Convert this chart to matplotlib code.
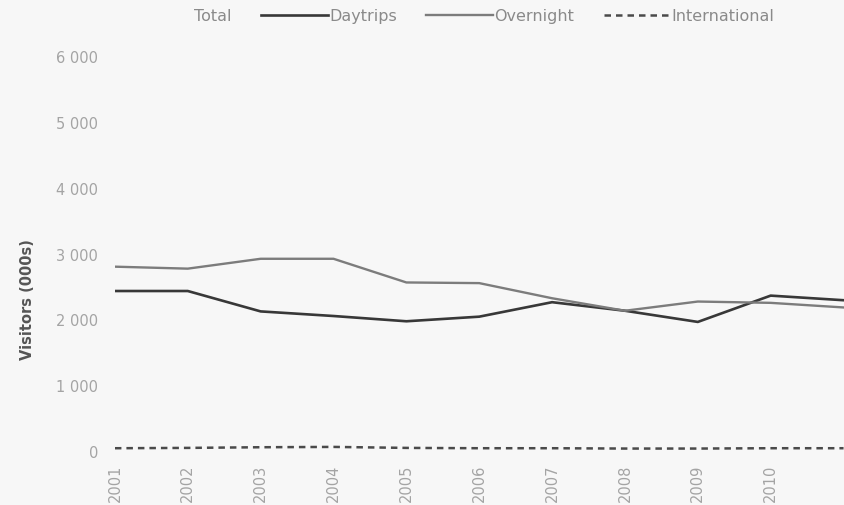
import matplotlib

matplotlib.use("Agg")
import matplotlib.pyplot as plt
from matplotlib.ticker import FuncFormatter

plt.rcParams["font.family"] = ["DejaVu Sans"]

years = [2001, 2002, 2003, 2004, 2005, 2006, 2007, 2008, 2009, 2010, 2011]
daytrips = [2430, 2430, 2120, 2050, 1970, 2040, 2260, 2130, 1960, 2360, 2290]
overnight = [2800, 2770, 2920, 2920, 2560, 2550, 2320, 2130, 2270, 2250, 2180]
international = [40, 45, 55, 60, 45, 40, 40, 35, 35, 40, 40]

bg = "#f7f7f7"
fig = plt.figure(figsize=(8.45, 5.06), dpi=100, facecolor=bg)
ax = fig.add_axes([0.136, 0.107, 0.864, 0.78], facecolor=bg)

ax.plot([], [], color=bg, alpha=0, label="Total")
ax.plot(years, daytrips, color="#383838", lw=1.9, label="Daytrips")
ax.plot(years, overnight, color="#7c7c7c", lw=1.7, label="Overnight")
ax.plot(years, international, color="#4a4a4a", lw=1.8, ls=(0, (2.6, 2.0)), label="International")

ax.set_xlim(2001, 2011.02)
ax.set_ylim(0, 6000)
ax.set_yticks(range(0, 6001, 1000))
ax.yaxis.set_major_formatter(FuncFormatter(lambda v, p: f"{int(v):,}".replace(",", " ")))
ax.set_xticks(years[:-1])
ax.set_xticklabels([str(y) for y in years[:-1]], rotation=90)
ax.tick_params(axis="both", length=0, colors="#a4a4a4", labelsize=10.5)
ax.tick_params(axis="y", pad=12)
ax.tick_params(axis="x", pad=9)
for s in ax.spines.values():
    s.set_visible(False)

ax.set_ylabel("Visitors (000s)", fontsize=10.5, fontweight="bold", color="#555555")
ax.yaxis.set_label_coords(-0.11, 0.387)

fig.legend(loc="upper center", bbox_to_anchor=(0.533, 1.01), ncol=4, frameon=False,
           fontsize=11.5, handlelength=4.2, handletextpad=0.05, columnspacing=1.85,
           labelcolor="#8a8a8a")

fig.savefig("out.png", dpi=100, facecolor=bg)
